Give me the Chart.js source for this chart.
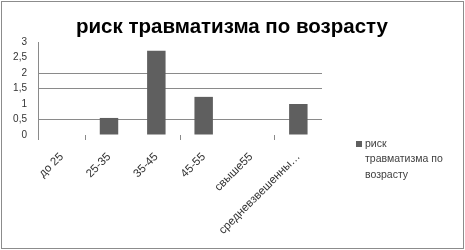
<!DOCTYPE html>
<html>
<head>
<meta charset="utf-8">
<script src="https://cdn.jsdelivr.net/npm/chart.js@4/dist/chart.umd.min.js"></script>
<style>
  html, body { margin: 0; padding: 0; background: #fff; }
  #wrap { position: relative; width: 465px; height: 250px; }
  #frame { position: absolute; left: 1px; top: 1px; width: 461px; height: 246px; border: 1px solid #8c8c8c; pointer-events: none; }
</style>
</head>
<body>
<div id="wrap">
  <canvas id="c" width="465" height="250"></canvas>
  <div id="frame"></div>
</div>
<script>
// Age groups and injury risk per group
const categories = ['до 25', '25-35', '35-45', '45-55', 'свыше55', 'средневзвешенный'];
const riskValues = [0, 0.55, 2.72, 1.23, 0, 1.0];
const seriesName = 'риск травматизма по возрасту';
const legendLines = ['риск', 'травматизма по', 'возрасту'];
const shownGridValues = [0.5, 1.5, 2];
const markedBoundaries = [0, 1, 3, 5];

const BAR = '#5f5f5f';
const GRID = '#8a8a8a';
const TEXT = '#333333';
const FONT = "'Liberation Sans', Arial, sans-serif";

// Title across the full width and a legend on the right with the wrapped series name
const decorations = {
  id: 'decorations',
  afterDraw(chart) {
    const ctx = chart.ctx;
    ctx.save();
    ctx.fillStyle = '#000';
    ctx.font = 'bold 20.5px ' + FONT;
    ctx.textAlign = 'center';
    ctx.textBaseline = 'middle';
    ctx.fillText(seriesName, 232, 27);

    ctx.fillStyle = chart.data.datasets[0].backgroundColor;
    ctx.fillRect(356, 141, 6, 6);
    ctx.fillStyle = '#404040';
    ctx.font = '10.5px ' + FONT;
    ctx.textAlign = 'left';
    legendLines.forEach((ln, i) => ctx.fillText(ln, 365, 144 + i * 15.5));
    ctx.restore();
  }
};

new Chart(document.getElementById('c'), {
  type: 'bar',
  data: {
    labels: categories,
    datasets: [{
      label: seriesName,
      data: riskValues,
      backgroundColor: BAR,
      borderWidth: 0,
      categoryPercentage: 1,
      barPercentage: 0.39
    }]
  },
  options: {
    responsive: false,
    animation: false,
    devicePixelRatio: 1,
    layout: { padding: { left: 0, right: 143, top: 42, bottom: 0 } },
    plugins: {
      legend: { display: false },
      tooltip: { enabled: false },
      title: { display: false }
    },
    scales: {
      x: {
        offset: true,
        border: { display: false },
        grid: {
          offset: true,
          drawOnChartArea: false,
          drawTicks: true,
          tickLength: 5,
          color: (c) => markedBoundaries.includes(c.index) ? GRID : 'rgba(0,0,0,0)'
        },
        ticks: {
          color: TEXT,
          font: { family: FONT, size: 11.5 },
          maxRotation: 45,
          minRotation: 45,
          autoSkip: false,
          padding: 10,
          callback: function (v) {
            const s = this.getLabelForValue(v);
            return s.length > 15 ? s.slice(0, 15) + '…' : s;
          }
        },
        afterFit: (s) => { s.height = 250 - 135; }
      },
      y: {
        min: 0,
        max: 3,
        border: { display: true, color: GRID, width: 1 },
        grid: {
          drawTicks: false,
          color: (c) => c.tick && shownGridValues.includes(c.tick.value) ? GRID : 'rgba(0,0,0,0)'
        },
        ticks: {
          stepSize: 0.5,
          autoSkip: false,
          color: TEXT,
          font: { family: FONT, size: 10 },
          padding: 11,
          callback: (v) => String(v).replace('.', ',')
        },
        afterFit: (s) => { s.width = 38; }
      }
    }
  },
  plugins: [decorations]
});
</script>
</body>
</html>
